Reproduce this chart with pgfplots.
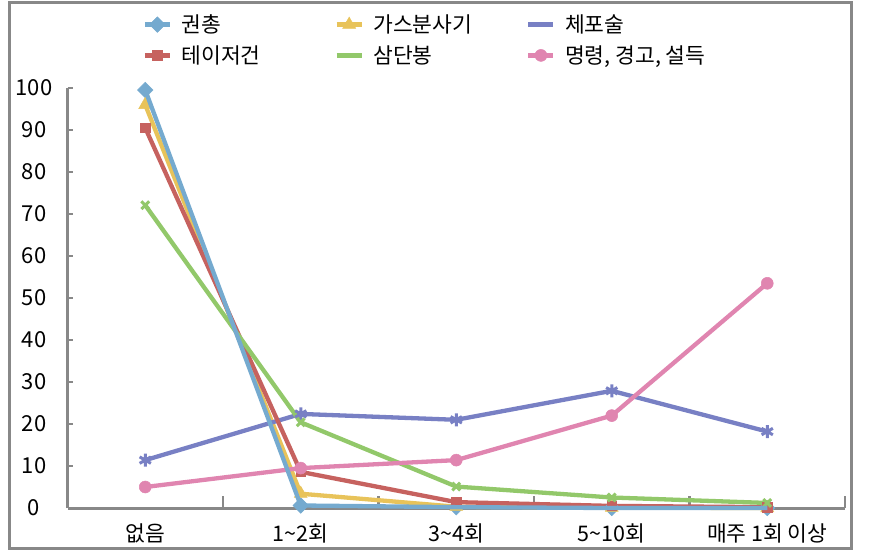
\documentclass[border=0pt]{standalone}
\usepackage{fontspec}
\setmainfont{Noto Sans CJK KR}
\usepackage{pgfplots}
\pgfplotsset{compat=1.18}
\definecolor{cBlue}{RGB}{117,170,207}
\definecolor{cYellow}{RGB}{232,195,90}
\definecolor{cPurple}{RGB}{120,128,196}
\definecolor{cRed}{RGB}{198,98,95}
\definecolor{cGreen}{RGB}{146,200,106}
\definecolor{cPink}{RGB}{224,133,176}
\definecolor{axgray}{RGB}{136,136,136}
\pgfplotsset{lineonly/.style={legend image code/.code={\draw[##1] (0pt,0pt) -- (25pt,0pt);}}}
\begin{document}
\begin{tikzpicture}[x=1pt,y=1pt]
\path (0,0) rectangle (873,558);
\draw[axgray, line width=3pt] (9,10) rectangle (851,555.5);
\begin{axis}[
  at={(67.5pt,50pt)}, anchor=south west,
  width=777.5pt, height=420pt, scale only axis,
  xmin=-0.5, xmax=4.5, ymin=0, ymax=100,
  clip=false,
  set layers,
  axis x line*=bottom, axis y line*=left,
  axis line style={draw=axgray, line width=3pt, -},
  xtick={0,1,2,3,4},
  xticklabels={없음,1\textasciitilde2회,3\textasciitilde4회,5\textasciitilde10회,매주 1회 이상},
  major x tick style={draw=none},
  minor xtick={0.5,1.5,2.5,3.5,4.5},
  minor x tick style={draw=axgray, line width=2.5pt},
  minor tick length=12pt,
  major tick length=5pt,
  tick align=inside,
  ytick={0,10,...,100},
  y tick style={draw=axgray, line width=2pt},
  /pgf/number format/assume math mode=true,
  tick label style={text=black},
  xticklabel style={font=\fontsize{21.5}{23}\selectfont, anchor=center, yshift=-25pt},
  yticklabel style={font=\fontsize{22}{24}\selectfont, anchor=center, xshift=-33.5pt},
  legend columns=3,
  legend cell align=left,
  legend style={at={(0.0965,1.1143)}, anchor=west, draw=none, fill=none,
    inner sep=0pt, row sep=11.5pt,
    font=\fontsize{21.5}{23}\selectfont,
    nodes={inner sep=0pt},
    /tikz/every odd column/.append style={column sep=9.5pt}},
  legend image code/.code={\draw[mark repeat=2,mark phase=2,#1] plot coordinates {(0pt,0pt) (12.5pt,0pt) (25pt,0pt)};},
  every axis plot/.append style={line width=4.3pt},
]
\addplot[cBlue, on layer=axis foreground, mark=square*, mark size=5.5pt, mark options={rotate=45, fill=cBlue, draw=cBlue, line width=0.5pt}]
  coordinates {(0,99.5) (1,0.6) (2,0.2) (3,0) (4,0)};
\addlegendentry{\makebox[153pt][l]{권총}}
\addplot[cYellow, mark=triangle*, mark size=7.5pt, mark options={fill=cYellow, draw=cYellow, line width=0.5pt}]
  coordinates {(0,96) (1,3.4) (2,0.3) (3,0.1) (4,0)};
\addlegendentry{\makebox[153pt][l]{가스분사기}}
\addplot[cPurple, lineonly, mark=asterisk, mark size=6.5pt, mark options={draw=cPurple, line width=3pt}]
  coordinates {(0,11.4) (1,22.4) (2,21) (3,27.9) (4,18.2)};
\addlegendentry{\makebox[153pt][l]{체포술}}
\addplot[cRed, mark=square*, mark size=4.8pt, mark options={fill=cRed, draw=cRed, line width=0.5pt}]
  coordinates {(0,90.5) (1,8.6) (2,1.4) (3,0.5) (4,0.2)};
\addlegendentry{\makebox[153pt][l]{테이저건}}
\addplot[cGreen, lineonly, mark=x, mark size=5.5pt, mark options={draw=cGreen, line width=3pt}]
  coordinates {(0,72.1) (1,20.4) (2,5.1) (3,2.5) (4,1.2)};
\addlegendentry{\makebox[153pt][l]{삼단봉}}
\addplot[cPink, mark=*, mark size=6pt, mark options={fill=cPink, draw=cPink, line width=0.5pt}]
  coordinates {(0,5.0) (1,9.5) (2,11.4) (3,22.0) (4,53.5)};
\addlegendentry{\makebox[153pt][l]{명령, 경고, 설득}}
\end{axis}
\end{tikzpicture}
\end{document}
